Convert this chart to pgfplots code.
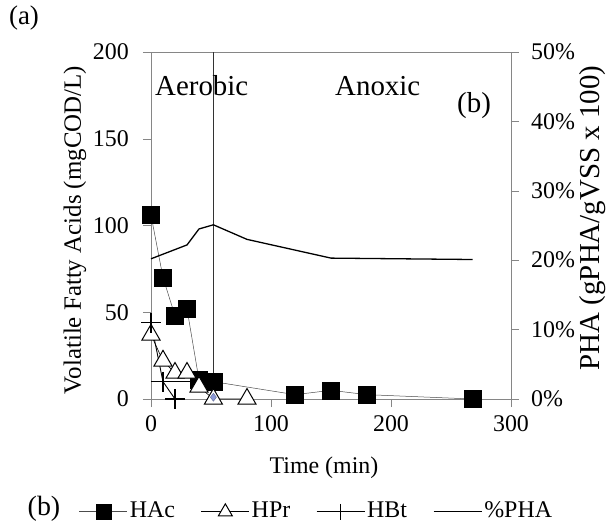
\documentclass[border=0pt]{standalone}
\usepackage{fontspec}
\setmainfont{Liberation Serif}
\usepackage{pgfplots}
\pgfplotsset{compat=1.18}
\definecolor{axgray}{HTML}{868686}
\definecolor{dia}{HTML}{8C9AD8}
\begin{document}
\fontsize{24}{28}\selectfont
\begin{tikzpicture}[x=1bp,y=1bp]
\path[use as bounding box] (-151,-126) rectangle (465,399);
\pgfplotsset{
  every tick label/.append style={font=\fontsize{24}{28}\selectfont},
  /pgf/number format/assume math mode=true,
}
\begin{axis}[
  at={(0,0)}, anchor=south west,
  scale only axis, width=360bp, height=347bp,
  xmin=0, xmax=300, ymin=0, ymax=200,
  xtick={0,100,200,300}, ytick={0,50,100,150,200},
  xtick pos=bottom, ytick pos=left,
  tick align=outside,
  major tick length=8bp,
  axis line style={axgray},
  tick style={axgray},
  yticklabel style={xshift=-6bp},
  clip=false,
]
% vertical separator
\addplot[black!80, line width=0.5pt, forget plot] coordinates {(52,0) (52,200)};
% extra horizontal line at 10
\addplot[black, line width=1.1pt, forget plot] coordinates {(0,10) (56,10)};
% HAc
\addplot[gray!60!black, line width=0.5pt, mark=square*, mark size=8.5, mark options={fill=black, draw=black, solid}]
 coordinates {(0,106) (10,70) (20,48) (30,52) (40,11) (52,10) (120,2.5) (150,5) (180,2.5) (268,0)};
% HPr
\addplot[black, line width=0.6pt, mark=triangle*, mark size=10.5, mark options={fill=white, draw=black, line width=1pt}]
 coordinates {(0,37) (10,22) (20,15) (30,15) (40,7) (52,0) (80,0)};
% HBt
\addplot[black, line width=0.9pt, mark=+, mark size=10, mark options={line width=1.1pt}]
 coordinates {(0,44) (10,10) (20,0)};
% small diamond
\addplot[only marks, mark=diamond*, mark size=4, mark options={fill=dia, draw=dia!70!black}]
 coordinates {(52,1)};
\end{axis}
\begin{axis}[
  at={(0,0)}, anchor=south west,
  scale only axis, width=360bp, height=347bp,
  xmin=0, xmax=300, ymin=0, ymax=50,
  axis y line*=right, axis x line=none,
  ytick={0,10,20,30,40,50},
  yticklabels={0\%,10\%,20\%,30\%,40\%,50\%},
  tick align=outside,
  major tick length=8bp,
  axis line style={axgray},
  tick style={axgray},
  yticklabel style={xshift=4bp},
  clip=false,
  legend columns=4,
  legend style={at={(-0.2,-0.325)}, anchor=west, draw=none, fill=none,
    inner sep=0pt, font=\fontsize{24}{28}\selectfont,
    nodes={inner sep=2bp},
    /tikz/every even column/.append style={column sep=24bp}},
  legend image code/.code={\draw[mark repeat=2,mark phase=2,#1] plot coordinates {(0bp,0bp) (24bp,0bp) (48bp,0bp)};},
]
\addlegendimage{gray!60!black, line width=0.6pt, mark=square*, mark size=7.5, mark options={fill=black, draw=black}}
\addlegendentry{HAc}
\addlegendimage{black, line width=0.8pt, mark=triangle*, mark size=8, mark options={fill=white, draw=black, line width=1pt}}
\addlegendentry{HPr}
\addlegendimage{black, line width=0.9pt, mark=+, mark size=8, mark options={line width=1pt}}
\addlegendentry{HBt}
\addplot[black, line width=1.3pt] coordinates {(0,20.2) (30,22.2) (40,24.5) (52,25.1) (80,23) (150,20.3) (268,20.1)};
\addlegendentry{\%PHA}
\end{axis}
\node[font=\fontsize{27}{30}\selectfont] at (-127,381) {(a)};
\node[rotate=90, font=\fontsize{25}{28}\selectfont] at (-76,169) {Volatile Fatty Acids (mgCOD/L)};
\node[rotate=90, font=\fontsize{29}{32}\selectfont] at (442,181) {PHA (gPHA/gVSS x 100)};
\node at (173,-69) {Time (min)};
\node[font=\fontsize{29}{32}\selectfont, anchor=base west, inner sep=0pt] at (4,303) {Aerobic};
\node[font=\fontsize{29}{32}\selectfont, anchor=base west, inner sep=0pt] at (184,303) {Anoxic};
\node[font=\fontsize{29}{32}\selectfont, anchor=base west, inner sep=0pt] at (306,286) {(b)};
\node[font=\fontsize{28}{30}\selectfont] at (-107,-110) {(b)};
\end{tikzpicture}
\end{document}
